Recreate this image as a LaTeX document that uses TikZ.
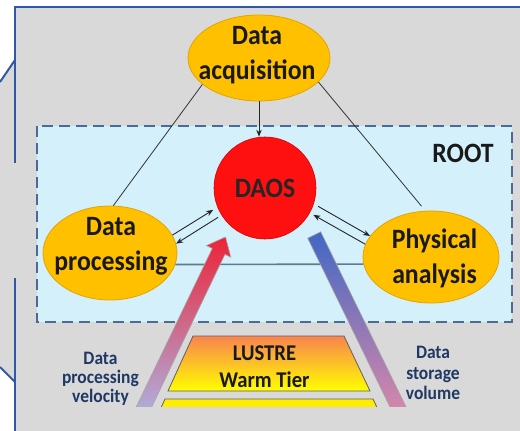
\documentclass[tikz,border=0pt]{standalone}
\usepackage{fontspec}
\setmainfont{Carlito}[FakeStretch=0.92]
\usetikzlibrary{arrows.meta,shapes.geometric,calc}
\definecolor{bggray}{HTML}{D9D9D9}
\definecolor{frameblue}{HTML}{3158A6}
\definecolor{boxfill}{HTML}{D3F0FB}
\definecolor{boxline}{HTML}{4A6B98}
\definecolor{ellfill}{HTML}{FFC000}
\definecolor{elldraw}{HTML}{E3A400}
\definecolor{daosred}{HTML}{FF1010}
\definecolor{hlinecol}{HTML}{5E7C8A}
\definecolor{navy}{HTML}{1F3864}
\definecolor{redtop}{HTML}{EC2438}
\definecolor{redmid}{HTML}{DA4E74}
\definecolor{redbot}{HTML}{A6C2F4}
\definecolor{bluetop}{HTML}{4068C4}
\definecolor{bluemid}{HTML}{A0B6EE}
\definecolor{bluebot}{HTML}{EC8CA6}
\definecolor{lustretop}{HTML}{F8844E}
\definecolor{lustremid}{HTML}{FFC22A}
\definecolor{lustrebot}{HTML}{FFFF00}
\begin{document}
\begin{tikzpicture}[x=1pt,y=-1pt,
  ell/.style={ellipse, fill=ellfill, draw=elldraw, line width=0.8pt, inner sep=0pt},
  lbl/.style={align=center, font=\fontsize{28}{35}\selectfont\bfseries, text=black!90, inner sep=0pt},
  sidelbl/.style={align=center, text=navy, inner sep=0pt},
  arr/.style={-{Stealth[length=7pt,width=5.5pt]}, line width=0.9pt, draw=black!85},
  thinline/.style={line width=0.8pt, draw=black!80},
  trapbox/.style={draw=gray!75!black, line width=0.8pt},
  bigarrow/.style={draw=black!35, line width=0.6pt},
  framebl/.style={draw=frameblue, line width=2pt}
]
\useasboundingbox (0,0) rectangle (520,431);
\fill[white] (0,0) rectangle (520,431);
% gray backdrop
\fill[bggray] (15,7) -- (520,7) -- (520,431) -- (15,431) -- (15,382) -- (0,367) -- (0,82) -- (15,60) -- cycle;
% ROOT dashed box
\fill[boxfill] (37,126) rectangle (512,322);
\draw[boxline, line width=2pt, dash pattern=on 11pt off 6pt] (37,126) rectangle (512,322);
% nodes
\node[ell, minimum width=142pt, minimum height=86pt] (acq) at (259,58) {};
\node[ell, minimum width=134pt, minimum height=94pt] (proc) at (110,253) {};
\node[ell, minimum width=136pt, minimum height=92pt] (phys) at (431,257) {};
\node[circle, fill=daosred, draw=red!85!black, line width=0.6pt, minimum size=102pt, inner sep=0pt,
      font=\fontsize{28}{34}\selectfont\bfseries, text=black!85] (daos) at (265,188) {DAOS};
\node[lbl] (acqt) at (257,55) {Data\\acquisition};
\node[lbl] (proct) at (111,246.5) {Data\\processing};
\node[lbl] (physt) at (434.5,258.5) {Physical\\analysis};
\node[inner sep=0pt, font=\fontsize{28}{34}\selectfont\bfseries, text=black!90] (root) at (463,153) {ROOT};
% connectors
\draw[thinline] (acq.205) -- (proc.86);
\draw[thinline, shorten >=6pt] (acq.-22) -- (phys.97);
\draw[hlinecol, line width=1.6pt] (proc.-10.5) -- (phys.186.8);
\draw[arr] (acq.south) -- (acq.south |- daos.north);
\draw[arr, shorten >=5pt] (proc.16) -- (daos.202);
\draw[arr, shorten <=4pt] (daos.212) -- (proc.8);
\draw[arr, shorten <=5pt] (daos.-18) -- (phys.161);
\draw[arr, shorten >=4pt] (phys.169) -- (daos.-29);
% storage tiers
\shade[top color=lustretop, middle color=lustremid, bottom color=lustrebot] (193,336) -- (344,336) -- (370,391) -- (168,391) -- cycle;
\draw[trapbox] (193,336) -- (344,336) -- (370,391) -- (168,391) -- cycle;
\node[align=center, inner sep=0pt, font=\fontsize{22.5}{27}\selectfont\bfseries, text=black!90] (lustre) at (264.5,366.5) {LUSTRE\\Warm Tier};
\fill[yellow!95!orange] (165,399) -- (373,399) -- (388,431) -- (150.5,431) -- cycle;
\draw[trapbox] (150.5,431) -- (165,399) -- (373,399) -- (388,431);
% big arrows
\shade[top color=redtop, middle color=redmid, bottom color=redbot]
  (225.5,237) -- (230.8,257.2) -- (224.9,254.4) -- (137.3,437) -- (124.7,431) -- (212.3,248.4) -- (206.4,245.6) -- cycle;
\draw[bigarrow] (225.5,237) -- (230.8,257.2) -- (224.9,254.4) -- (137.3,437) -- (124.7,431) -- (212.3,248.4) -- (206.4,245.6) -- cycle;
\shade[top color=bluetop, middle color=bluemid, bottom color=bluebot]
  (307.7,238.2) -- (320.7,231.8) -- (417.7,430.8) -- (404.7,437.2) -- cycle;
\draw[bigarrow] (307.7,238.2) -- (320.7,231.8) -- (417.7,430.8) -- (404.7,437.2) -- cycle;
% side labels
\node[sidelbl, font=\fontsize{19}{19}\selectfont\bfseries] (vel) at (100.5,378.7) {Data\\processing\\velocity};
\node[sidelbl, font=\fontsize{19}{20.5}\selectfont\bfseries] (vol) at (433,373) {Data\\storage\\volume};
% bottom band cut
\fill[bggray] (15,407) rectangle (520,431);
% frame lines
\draw[framebl] (15,163) -- (15,7) -- (520,7);
\draw[framebl] (15,60) -- (0,82);
\draw[framebl] (15,278) -- (15,431);
\draw[framebl] (0,367) -- (15,382);
\end{tikzpicture}
\end{document}
